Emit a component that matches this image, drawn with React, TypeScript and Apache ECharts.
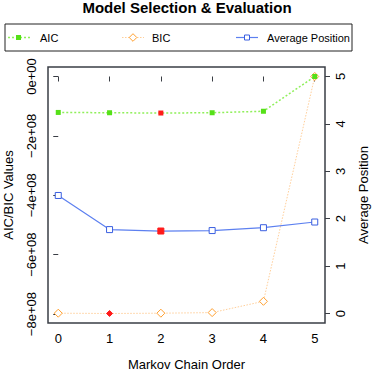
import React, { useEffect, useRef } from "react";
import * as echarts from "echarts";

const orders = [0, 1, 2, 3, 4, 5];
const aicValues = [-1.21e8, -1.22e8, -1.23e8, -1.22e8, -1.17e8, 0];
const bicValues = [-7.97e8, -7.98e8, -7.97e8, -7.95e8, -7.57e8, 0];
const avgPosition = [2.49, 1.77, 1.74, 1.75, 1.81, 1.93];
const xTicks = [0, 1, 2, 3, 4, 5];
const leftTicks = [0, -2e8, -4e8, -6e8, -8e8];
const leftTickLabels = ["0e+00", "\u22122e+08", "\u22124e+08", "\u22126e+08", "\u22128e+08"];
const rightTicks = [0, 1, 2, 3, 4, 5];

const FONT = "'Liberation Sans', Arial, Helvetica, sans-serif";
const AXIS_COLOR = "#3a3e45";
const AIC_LINE = "#8fef5a";
const AIC_MARK = "#55e018";
const BIC_LINE = "#ffcf9a";
const BIC_MARK = "#ffa030";
const AVG_LINE = "#5d80f0";
const AVG_MARK = "#3a5fe0";
const RED = "#ff1a1a";

function argMin(a: number[]) {
  let k = 0;
  a.forEach((v, i) => {
    if (v < a[k]) k = i;
  });
  return k;
}

export default function App() {
  const ref = useRef<HTMLDivElement>(null);
  useEffect(() => {
    if (!ref.current) return;
    const chart = echarts.init(ref.current, undefined, { renderer: "svg" });
    const aicMin = argMin(aicValues);
    const bicMin = argMin(bicValues);
    const avgMin = argMin(avgPosition);

    const aicData = orders.map((x, i) =>
      i === aicMin
        ? { value: [x, aicValues[i]], itemStyle: { color: RED, borderColor: RED } }
        : { value: [x, aicValues[i]] }
    );
    const bicData = orders.map((x, i) =>
      i === bicMin
        ? { value: [x, bicValues[i]], symbolSize: 6, itemStyle: { color: RED, borderColor: RED } }
        : { value: [x, bicValues[i]] }
    );
    const avgData = orders.map((x, i) =>
      i === avgMin
        ? { value: [x, avgPosition[i]], itemStyle: { color: RED, borderColor: RED } }
        : { value: [x, avgPosition[i]] }
    );

    const ly = 37.5;
    const legendFont = 11;
    const legendItems: any[] = [
      {
        type: "rect",
        shape: { x: 5, y: 24, width: 347, height: 27 },
        style: { fill: "none", stroke: "#222", lineWidth: 1 },
      },
      {
        type: "line",
        shape: { x1: 8, y1: ly, x2: 30, y2: ly },
        style: { stroke: AIC_LINE, lineWidth: 1.5, lineDash: [2, 2] },
      },
      {
        type: "rect",
        shape: { x: 16, y: ly - 2.5, width: 5, height: 5 },
        style: { fill: AIC_MARK },
      },
      {
        type: "text",
        x: 40,
        y: ly,
        style: { text: "AIC", fontSize: legendFont, fontFamily: FONT, fill: "#000", verticalAlign: "middle" },
      },
      {
        type: "line",
        shape: { x1: 122, y1: ly, x2: 144, y2: ly },
        style: { stroke: BIC_LINE, lineWidth: 1, lineDash: [1.5, 1.5] },
      },
      {
        type: "polygon",
        shape: { points: [[133, ly - 3.8], [136.8, ly], [133, ly + 3.8], [129.2, ly]] },
        style: { fill: "#fff", stroke: BIC_MARK, lineWidth: 1 },
      },
      {
        type: "text",
        x: 152,
        y: ly,
        style: { text: "BIC", fontSize: legendFont, fontFamily: FONT, fill: "#000", verticalAlign: "middle" },
      },
      {
        type: "line",
        shape: { x1: 236, y1: ly, x2: 258, y2: ly },
        style: { stroke: AVG_LINE, lineWidth: 1.2 },
      },
      {
        type: "rect",
        shape: { x: 244.5, y: ly - 2.5, width: 5, height: 5 },
        style: { fill: "#fff", stroke: AVG_MARK, lineWidth: 1 },
      },
      {
        type: "text",
        x: 267,
        y: ly,
        style: {
          text: "Average Position",
          fontSize: legendFont,
          fontFamily: FONT,
          fill: "#000",
          verticalAlign: "middle",
        },
      },
    ];

    chart.setOption({
      animation: false,
      backgroundColor: "#fff",
      textStyle: { fontFamily: FONT },
      title: {
        text: "Model Selection & Evaluation",
        left: "center",
        top: 0,
        padding: 0,
        textStyle: { fontSize: 15, fontWeight: "bold", color: "#000", fontFamily: FONT },
      },
      graphic: legendItems,
      grid: {
        left: 48,
        top: 67,
        width: 277,
        height: 256,
        show: true,
        borderColor: AXIS_COLOR,
        borderWidth: 1.5,
        backgroundColor: "transparent",
        containLabel: false,
        outerBoundsMode: "none",
      },
      xAxis: {
        type: "value",
        min: -0.2,
        max: 5.2,
        splitLine: { show: false },
        axisLine: { show: false },
        axisTick: {
          show: true,
          customValues: xTicks,
          length: 5,
          lineStyle: { color: AXIS_COLOR, width: 1 },
        },
        axisLabel: {
          customValues: xTicks,
          margin: 9,
          fontSize: 13,
          color: "#000",
          fontFamily: FONT,
        },
        name: "Markov Chain Order",
        nameLocation: "middle",
        nameGap: 35,
        nameTextStyle: { fontSize: 13, color: "#000", fontFamily: FONT },
      },
      yAxis: [
        {
          type: "value",
          position: "left",
          min: -8.3e8,
          max: 0.32e8,
          splitLine: { show: false },
          axisLine: { show: false },
          axisTick: {
            show: true,
            customValues: leftTicks,
            length: 5,
            lineStyle: { color: AXIS_COLOR, width: 1 },
          },
          axisLabel: {
            customValues: leftTicks,
            rotate: 90,
            margin: 10,
            fontSize: 13,
            color: "#000",
            fontFamily: FONT,
            formatter: (v: number) => {
              const i = leftTicks.findIndex((t) => Math.abs(t - v) < 1);
              return i >= 0 ? leftTickLabels[i] : "";
            },
          },
          name: "AIC/BIC Values",
          nameLocation: "middle",
          nameGap: 33,
          nameTextStyle: { fontSize: 13, color: "#000", fontFamily: FONT },
        },
        {
          type: "value",
          position: "right",
          min: -0.2,
          max: 5.2,
          splitLine: { show: false },
          axisLine: { show: false },
          axisTick: {
            show: true,
            customValues: rightTicks,
            length: 5,
            lineStyle: { color: AXIS_COLOR, width: 1 },
          },
          axisLabel: {
            customValues: rightTicks,
            rotate: 90,
            margin: 9,
            fontSize: 13,
            color: "#000",
            fontFamily: FONT,
          },
          name: "Average Position",
          nameLocation: "middle",
          nameGap: 32,
          nameTextStyle: { fontSize: 13, color: "#000", fontFamily: FONT },
        },
      ],
      series: [
        {
          name: "BIC",
          type: "line",
          yAxisIndex: 0,
          data: bicData,
          symbol: "diamond",
          symbolSize: 8,
          lineStyle: { color: BIC_LINE, width: 1, type: [1.5, 1.5] },
          itemStyle: { color: "#fff", borderColor: BIC_MARK, borderWidth: 1 },
          z: 2,
        },
        {
          name: "AIC",
          type: "line",
          yAxisIndex: 0,
          data: aicData,
          symbol: "rect",
          symbolSize: 5,
          lineStyle: { color: AIC_LINE, width: 1.5, type: [2, 2] },
          itemStyle: { color: AIC_MARK, borderWidth: 0 },
          z: 3,
        },
        {
          name: "Average Position",
          type: "line",
          yAxisIndex: 1,
          data: avgData,
          symbol: "rect",
          symbolSize: 6,
          lineStyle: { color: AVG_LINE, width: 1.2 },
          itemStyle: { color: "#fff", borderColor: AVG_MARK, borderWidth: 1 },
          z: 3,
        },
      ],
    });
    return () => chart.dispose();
  }, []);
  return (
    <div
      ref={ref}
      style={{ position: "fixed", left: 0, top: 0, width: 374, height: 372 }}
    />
  );
}
